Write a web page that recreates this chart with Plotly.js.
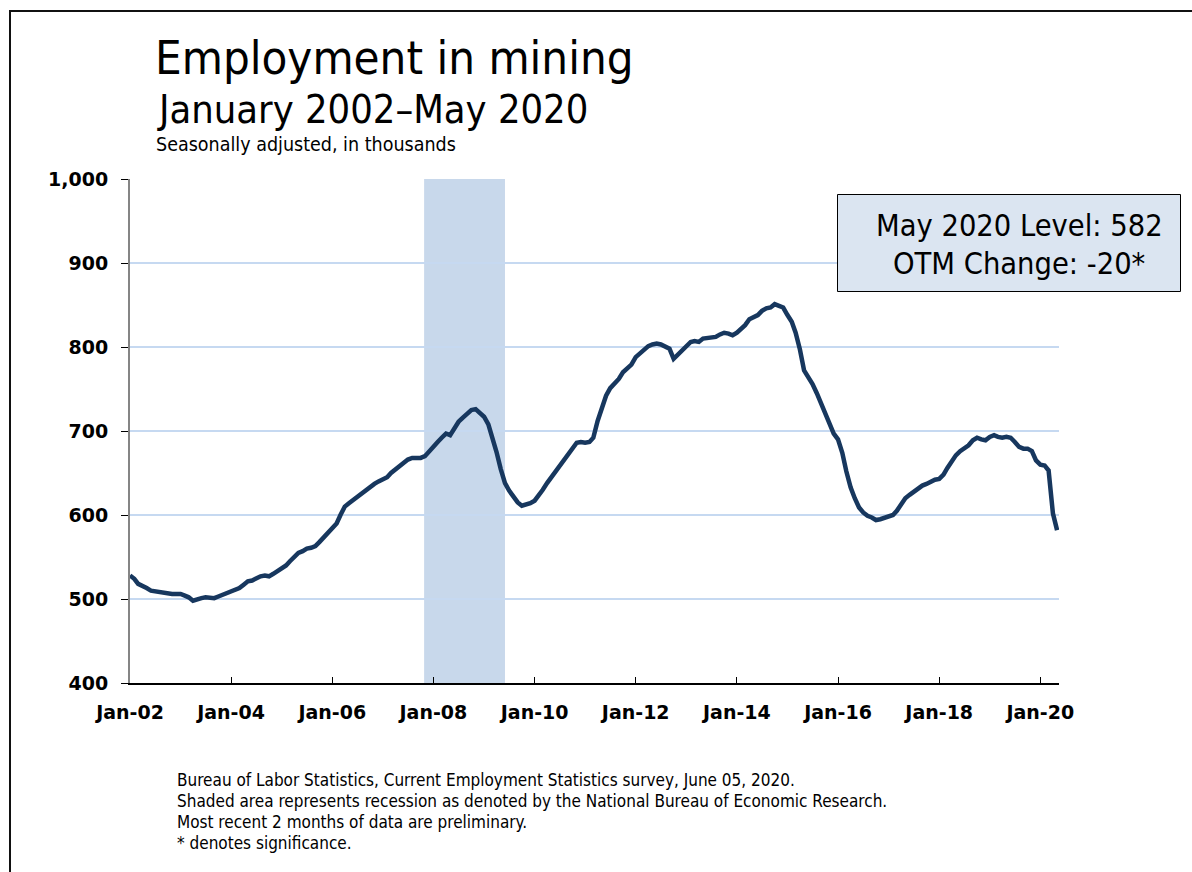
<!DOCTYPE html>
<html>
<head>
<meta charset="utf-8">
<script src="https://cdn.plot.ly/plotly-3.0.1.min.js"></script>
<style>
  html, body { margin: 0; padding: 0; background: #fff; overflow: hidden; }
  #chart { width: 1192px; height: 872px; position: absolute; left: 0; top: 0; }
  #frame { position: absolute; left: 9px; top: 10px; width: 1400px; height: 1000px;
           border-left: 2px solid #111; border-top: 2px solid #111; pointer-events: none; }
</style>
</head>
<body>
<div id="chart"></div>
<div id="frame"></div>
<script>
// Monthly employment in mining, seasonally adjusted, thousands
const startYear = 2002;
const y2002 = [528, 524, 518, 516, 513, 510, 509, 508, 507, 507, 506, 506];
const y2003 = [506, 504, 502, 498, 500, 501, 502, 501, 501, 503, 505, 507];
const y2004 = [509, 510, 513, 517, 521, 522, 525, 527, 528, 527, 530, 533];
const y2005 = [536, 540, 545, 550, 555, 557, 560, 561, 563, 568, 574, 580];
const y2006 = [585, 590, 600, 610, 614, 618, 622, 626, 630, 634, 637, 640];
const y2007 = [642, 645, 650, 654, 658, 662, 666, 668, 668, 668, 670, 676];
const y2008 = [681, 687, 692, 697, 695, 703, 711, 716, 721, 725, 726, 722];
const y2009 = [717, 708, 694, 675, 655, 638, 629, 621, 615, 611, 612, 614];
const y2010 = [617, 623, 630, 638, 645, 651, 657, 665, 673, 680, 686, 687];
const y2011 = [686, 687, 692, 712, 728, 742, 751, 756, 762, 770, 775, 779];
const y2012 = [788, 793, 797, 801, 803, 804, 803, 800, 798, 786, 791, 795];
const y2013 = [800, 806, 807, 806, 810, 811, 811, 812, 815, 817, 816, 814];
const y2014 = [817, 822, 826, 833, 836, 838, 843, 846, 847, 851, 849, 847];
const y2015 = [838, 830, 817, 797, 772, 765, 756, 745, 732, 722, 710, 697];
const y2016 = [690, 674, 652, 633, 620, 609, 603, 599, 597, 594, 595, 597];
const y2017 = [598, 600, 605, 613, 620, 624, 628, 631, 635, 637, 640, 642];
const y2018 = [643, 648, 656, 665, 671, 676, 679, 683, 689, 692, 690, 689];
const y2019 = [693, 695, 693, 692, 693, 692, 687, 681, 679, 679, 676, 665];
const y2020 = [660, 659, 653, 602, 582];

const tickLabels = ['Jan-02','Jan-04','Jan-06','Jan-08','Jan-10','Jan-12','Jan-14','Jan-16','Jan-18','Jan-20'];
const tickDates  = ['2002-01-01','2004-01-01','2006-01-01','2008-01-01','2010-01-01','2012-01-01','2014-01-01','2016-01-01','2018-01-01','2020-01-01'];
const recessionStart = '2007-10-26';
const recessionEnd   = '2009-06-01';
const levelText  = 'May 2020 Level: 582';
const changeText = 'OTM Change: -20*';

const values = [].concat(y2002, y2003, y2004, y2005, y2006, y2007, y2008, y2009, y2010,
                         y2011, y2012, y2013, y2014, y2015, y2016, y2017, y2018, y2019, y2020);
const dates = values.map((v, i) => {
  const y = startYear + Math.floor(i / 12);
  const m = (i % 12) + 1;
  return y + '-' + (m < 10 ? '0' + m : m) + '-01';
});

const FONT = '"DejaVu Sans Condensed", "DejaVu Sans", Verdana, sans-serif';
const BOLDFONT = '"DejaVu Sans", Verdana, sans-serif';

const trace = {
  x: dates, y: values, type: 'scatter', mode: 'lines',
  line: { color: '#17375e', width: 4.5 },
  hoverinfo: 'x+y'
};

function px2x(px) { return (px - 130) / 929; }
function py2y(py) { return (683 - py) / 504; }

const layout = {
  width: 1192, height: 872,
  margin: { l: 130, r: 133, t: 179, b: 189, pad: 0 },
  paper_bgcolor: '#ffffff', plot_bgcolor: '#ffffff',
  showlegend: false,
  font: { family: FONT, color: '#000' },
  xaxis: {
    type: 'date',
    range: ['2002-01-01', '2020-05-15'],
    tickvals: tickDates, ticktext: tickLabels,
    ticks: 'inside', ticklen: 6, tickwidth: 1, tickcolor: '#000',
    showgrid: false, zeroline: false,
    showline: true, linecolor: '#000', linewidth: 1.5,
    tickfont: { family: BOLDFONT, size: 19, color: '#000', weight: 'bold' },
    ticklabelstandoff: 11,
    fixedrange: true
  },
  yaxis: {
    range: [400, 1000], dtick: 100, tick0: 400,
    tickformat: ',',
    ticks: 'outside', ticklen: 7, tickwidth: 1, tickcolor: '#000',
    showgrid: true, gridcolor: '#c6d9f1', gridwidth: 1.5,
    zeroline: false,
    showline: true, linecolor: '#858585', linewidth: 2,
    tickfont: { family: BOLDFONT, size: 19, color: '#000', weight: 'bold' },
    ticklabelstandoff: 9,
    fixedrange: true
  },
  shapes: [
    { type: 'rect', xref: 'x', yref: 'paper',
      x0: recessionStart, x1: recessionEnd, y0: 0, y1: 1,
      fillcolor: '#c8d8eb', line: { width: 0 }, layer: 'below' },
    { type: 'rect', xref: 'paper', yref: 'paper',
      x0: px2x(837.5), x1: px2x(1180.5), y0: py2y(291.5), y1: py2y(194.5),
      fillcolor: '#dbe5f1', line: { color: '#000', width: 1 }, layer: 'above' }
  ],
  annotations: [
    { text: 'Employment in mining', xref: 'paper', yref: 'paper',
      x: px2x(153), y: py2y(58), xanchor: 'left', yanchor: 'middle', showarrow: false,
      font: { family: FONT, size: 47, color: '#000' } },
    { text: 'January 2002\u2013May 2020', xref: 'paper', yref: 'paper',
      x: px2x(155), y: py2y(109), xanchor: 'left', yanchor: 'middle', showarrow: false,
      font: { family: FONT, size: 39.5, color: '#000' } },
    { text: 'Seasonally adjusted, in thousands', xref: 'paper', yref: 'paper',
      x: px2x(154), y: py2y(144), xanchor: 'left', yanchor: 'middle', showarrow: false,
      font: { family: FONT, size: 19.5, color: '#000' } },
    { text: levelText, xref: 'paper', yref: 'paper',
      x: px2x(1019.5), y: py2y(225), xanchor: 'center', yanchor: 'middle', showarrow: false,
      font: { family: FONT, size: 30.5, color: '#000' } },
    { text: changeText, xref: 'paper', yref: 'paper',
      x: px2x(1018.5), y: py2y(263), xanchor: 'center', yanchor: 'middle', showarrow: false,
      font: { family: FONT, size: 30.5, color: '#000' } },
    { text: 'Bureau of Labor Statistics, Current Employment Statistics survey, June 05, 2020.',
      xref: 'paper', yref: 'paper', x: px2x(175), y: py2y(780), xanchor: 'left', yanchor: 'middle',
      showarrow: false, font: { family: FONT, size: 17, color: '#000' } },
    { text: 'Shaded area represents recession as denoted by the National Bureau of Economic Research.',
      xref: 'paper', yref: 'paper', x: px2x(175), y: py2y(801), xanchor: 'left', yanchor: 'middle',
      showarrow: false, font: { family: FONT, size: 17, color: '#000' } },
    { text: 'Most recent 2 months of data are preliminary.',
      xref: 'paper', yref: 'paper', x: px2x(175), y: py2y(822), xanchor: 'left', yanchor: 'middle',
      showarrow: false, font: { family: FONT, size: 17, color: '#000' } },
    { text: '* denotes significance.',
      xref: 'paper', yref: 'paper', x: px2x(175), y: py2y(843), xanchor: 'left', yanchor: 'middle',
      showarrow: false, font: { family: FONT, size: 17, color: '#000' } }
  ]
};

Plotly.newPlot('chart', [trace], layout, { displayModeBar: false, staticPlot: false });
</script>
</body>
</html>
